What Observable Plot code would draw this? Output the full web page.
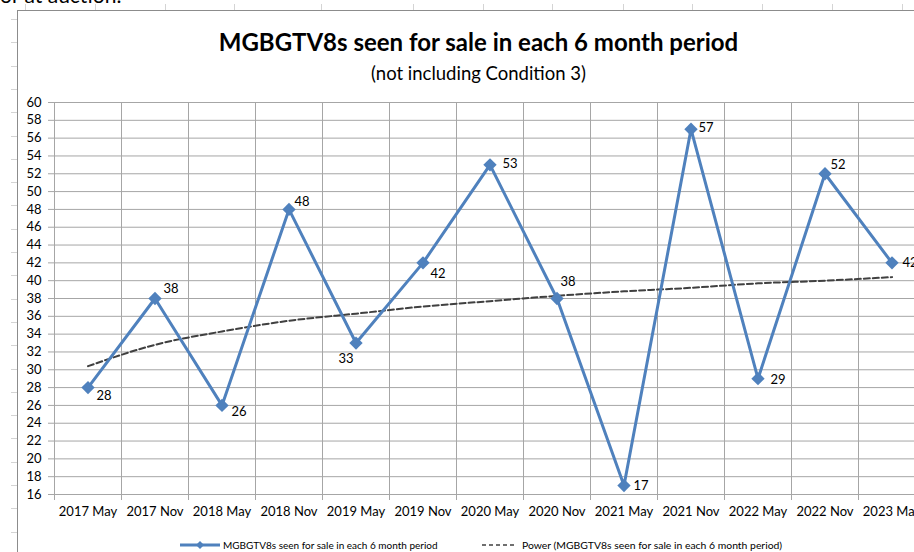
<!DOCTYPE html>
<html><head><meta charset="utf-8">
<script src="https://cdn.jsdelivr.net/npm/d3@7"></script>
<script src="https://cdn.jsdelivr.net/npm/@observablehq/plot@0.6"></script>
<style>
html,body{margin:0;padding:0;background:#fff;overflow:hidden}
#page{position:relative;width:914px;height:552px;overflow:hidden;font-family:Lato,"Open Sans",sans-serif;color:#000;background:#fff}
#cut{position:absolute;left:0;top:-18px;font-size:21px;white-space:nowrap}
#sheet{position:absolute;left:0;top:0}
#frame{position:absolute;left:17px;top:10px;width:1000px;height:1000px;border-left:1px solid #8c8c8c;border-top:1px solid #8c8c8c}
#title{position:absolute;left:0;width:957px;top:27px;text-align:center;font-weight:bold;font-size:24px;line-height:30px}
#subtitle{position:absolute;left:0;width:957px;top:61px;text-align:center;font-size:18.5px;line-height:24px}
#chart{position:absolute;left:0;top:95px}
#legend{position:absolute;left:0;top:538px;width:914px;height:14px;font-size:10px;line-height:14px;white-space:nowrap}
.lg{position:absolute;top:0}
</style>
</head><body>
<div id="page">
  <div id="cut">or at auction.</div>
  <svg id="sheet" width="914" height="552"></svg>
  <div id="frame"></div>
  <div id="title">MGBGTV8s seen for sale in each 6 month period</div>
  <div id="subtitle">(not including Condition 3)</div>
  <div id="chart"></div>
  <div id="legend">
    <svg class="lg" style="left:178px;top:0" width="44" height="14">
      <line x1="2" x2="42" y1="7" y2="7" stroke="#4F81BD" stroke-width="3"/>
      <path d="M22,3 L26,7 L22,11 L18,7 Z" fill="#4F81BD"/>
    </svg>
    <span class="lg" style="left:223px">MGBGTV8s seen for sale in each 6 month period</span>
    <svg class="lg" style="left:481px;top:0" width="36" height="14">
      <line x1="1" x2="35" y1="7" y2="7" stroke="#404040" stroke-width="1.5" stroke-dasharray="4,3"/>
    </svg>
    <span class="lg" style="left:522px;font-size:10.4px">Power (MGBGTV8s seen for sale in each 6 month period)</span>
  </div>
</div>
<script>
const categories = ["2017 May","2017 Nov","2018 May","2018 Nov","2019 May","2019 Nov","2020 May","2020 Nov","2021 May","2021 Nov","2022 May","2022 Nov","2023 May"];
const sightings = [28, 38, 26, 48, 33, 42, 53, 38, 17, 57, 29, 52, 42];
const powerTrend = [30.4, 32.8, 34.3, 35.5, 36.3, 37.1, 37.7, 38.3, 38.8, 39.2, 39.7, 40.0, 40.4];
const yTicks = [16,18,20,22,24,26,28,30,32,34,36,38,40,42,44,46,48,50,52,54,56,58,60];

// label placement (pixel nudges, Excel-style manual positions)
const labelNudge = [[16,8],[16,-10],[17,6],[13,-8],[-10,16],[15,11],[20,-1],[11,-17],[17,0],[15,-1],[20,1],[13,-9],[18,0]];

// faint spreadsheet cell gridlines peeking around the chart object (decoration)
(function () {
  const svg = d3.select("#sheet");
  const cols = [25, 95, 165, 234, 321, 413, 483, 552, 623, 692, 762, 832, 902];
  cols.forEach(x => svg.append("line").attr("x1", x + 0.5).attr("x2", x + 0.5).attr("y1", 4).attr("y2", 10).attr("stroke", "#d4d4d4"));
  for (let y = 19; y < 552; y += 23.3) {
    const yy = Math.round(y) + 0.5;
    svg.append("line").attr("x1", 11).attr("x2", 17).attr("y1", yy).attr("y2", yy).attr("stroke", "#d4d4d4");
  }
})();

const idx = categories.map((_, i) => i);
const edges = idx.map(i => i - 0.5).concat([categories.length - 0.5]);
const pts = sightings.map((v, i) => ({i, v}));
const trend = powerTrend.map((v, i) => ({i, v}));
const grid = "#a6a6a6";

const plot = Plot.plot({
  width: 914,
  height: 434,
  marginTop: 7,
  marginBottom: 35,
  marginLeft: 54,
  marginRight: 0,
  style: {fontFamily: "Lato, 'Open Sans', sans-serif", fontSize: "13px", color: "#000", background: "transparent"},
  x: {type: "linear", domain: [-0.5, categories.length - 0.5], range: [54, 925], ticks: idx, tickFormat: i => categories[i], tickSize: 0, tickPadding: 12, label: null},
  y: {domain: [16, 60], ticks: yTicks, tickSize: 0, tickPadding: 13, label: null},
  marks: [
    Plot.ruleY(yTicks, {stroke: grid, strokeWidth: 1, insetLeft: -6}),
    Plot.ruleX(edges, {stroke: grid, strokeWidth: 1, insetBottom: -6}),
    Plot.line(trend, {x: "i", y: "v", stroke: "#404040", strokeWidth: 2, strokeDasharray: "6,3", curve: "monotone-x"}),
    Plot.line(pts, {x: "i", y: "v", stroke: "#4F81BD", strokeWidth: 3}),
    Plot.dot(pts, {x: "i", y: "v", symbol: "diamond2", fill: "#4F81BD", stroke: "none", r: 6}),
    ...pts.map((p, k) => Plot.text([p], {x: "i", y: "v", text: d => String(d.v), dx: labelNudge[k][0], dy: labelNudge[k][1], fontSize: 13, fill: "#000"}))
  ]
});
document.getElementById("chart").appendChild(plot);
</script>
</body></html>
